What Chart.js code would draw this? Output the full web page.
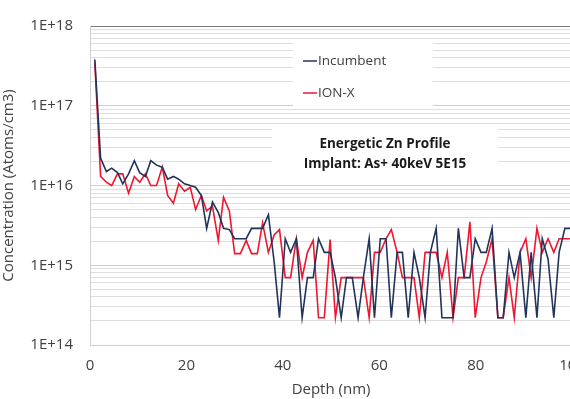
<!DOCTYPE html>
<html>
<head>
<meta charset="utf-8">
<script src="https://cdn.jsdelivr.net/npm/chart.js@4.4.1/dist/chart.umd.min.js"></script>
<style>
    html, body { margin: 0; padding: 0; background: #fff; overflow: hidden; }
    #wrap { width: 597px; height: 399px; }
</style>
</head>
<body>
<div id="wrap"><canvas id="chart" width="597" height="399"></canvas></div>
<script>
// Depth (nm) of each sample
const depths = [1.0, 2.2, 3.4, 4.5, 5.7, 6.8, 8.0, 9.2, 10.3, 11.5, 12.6, 13.8, 15.0, 16.1, 17.3, 18.4,
    19.6, 20.8, 21.9, 23.1, 24.2, 25.4, 26.6, 27.7, 28.9, 30.0, 31.2, 32.4, 33.5, 34.7, 35.8, 37.0,
    38.2, 39.3, 40.5, 41.6, 42.8, 44.0, 45.1, 46.3, 47.4, 48.6, 49.8, 50.9, 52.1, 53.2, 54.4, 55.6,
    56.7, 57.9, 59.0, 60.2, 61.4, 62.5, 63.7, 64.8, 66.0, 67.2, 68.3, 69.5, 70.6, 71.8, 73.0, 74.1,
    75.3, 76.4, 77.6, 78.8, 79.9, 81.1, 82.2, 83.4, 84.6, 85.7, 86.9, 88.0, 89.2, 90.4, 91.5, 92.7,
    93.8, 95.0, 96.2, 97.3, 98.5, 99.6];

const incumbent = [3.8e17, 2.2e16, 1.5e16, 1.65e16, 1.45e16, 1.05e16, 1.4e16, 2.05e16, 1.45e16, 1.3e16,
    2.05e16, 1.8e16, 1.7e16, 1.2e16, 1.3e16, 1.2e16, 1.05e16, 1.0e16, 9.5e15, 7.5e15,
    2.9e15, 6.2e15, 4.6e15, 2.9e15, 2.8e15, 2.15e15, 2.15e15, 2.15e15, 2.9e15, 2.9e15,
    2.9e15, 4.3e15, 1.1e15, 2.2e14, 2.15e15, 1.45e15, 2.15e15, 2.2e14, 7e14, 7e14,
    2.15e15, 1.45e15, 1.45e15, 7e14, 2.2e14, 7e14, 7e14, 2.2e14, 7e14, 2.15e15,
    2.2e14, 2.15e15, 2.15e15, 2.2e14, 1.45e15, 1.45e15, 2.2e14, 1.45e15, 7e14, 2.2e14,
    1.45e15, 2.9e15, 2.2e14, 2.2e14, 2.2e14, 2.9e15, 7e14, 7e14, 2.15e15, 1.45e15,
    1.45e15, 2.9e15, 2.2e14, 2.2e14, 1.45e15, 7e14, 1.45e15, 2.2e14, 1.45e15, 2.2e14,
    2.15e15, 1.2e15, 2.2e14, 1.45e15, 2.9e15, 2.9e15];

const ionx = [3.5e17, 1.3e16, 1.1e16, 1.0e16, 1.4e16, 1.4e16, 8e15, 1.3e16, 1.1e16, 1.4e16,
    1.0e16, 1.0e16, 1.7e16, 7.5e15, 6e15, 1.05e16, 8.5e15, 9.5e15, 5e15, 7.5e15,
    4.8e15, 5.5e15, 2.05e15, 7.1e15, 4.8e15, 1.4e15, 1.4e15, 2.05e15, 1.4e15, 1.4e15,
    3.4e15, 1.45e15, 2.4e15, 2.8e15, 7e14, 7e14, 2.15e15, 7e14, 1.45e15, 2.05e15,
    2.2e14, 2.2e14, 2.1e15, 2.2e14, 7e14, 7e14, 7e14, 7e14, 7e14, 2.2e14,
    1.45e15, 1.45e15, 2.15e15, 2.8e15, 1.45e15, 7e14, 7e14, 7e14, 2.2e14, 1.45e15,
    1.45e15, 1.45e15, 7e14, 1.45e15, 2.2e14, 7e14, 7e14, 3.5e15, 2.2e14, 7e14,
    1.1e15, 2.15e15, 2.2e14, 2.2e14, 7e14, 2.2e14, 1.45e15, 2.15e15, 7e14, 2.9e15,
    1.45e15, 2.15e15, 1.45e15, 2.15e15, 2.15e15, 2.15e15];

const decades = [1e14, 1e15, 1e16, 1e17, 1e18];
const xTicks = [0, 20, 40, 60, 80, 100];
const titleLines = ['Energetic Zn Profile', 'Implant: As+ 40keV 5E15'];

const FONT = '"Open Sans", "Noto Sans", sans-serif';

function toPoints(values) {
    return values.map((v, i) => ({ x: depths[i], y: v }));
}

// White boxes with legend and annotation inside the plot
const overlayPlugin = {
    id: 'overlay',
    beforeDatasetsDraw(chart) {
        const ctx = chart.ctx;
        ctx.save();
        ctx.fillStyle = '#ffffff';
        ctx.fillRect(293, 42, 140, 66);
        ctx.fillRect(272, 128, 226, 50);

        // legend
        ctx.font = '13.5px ' + FONT;
        ctx.textBaseline = 'middle';
        ctx.textAlign = 'left';
        chart.data.datasets.forEach((ds, i) => {
            const y = 61 + i * 32;
            ctx.strokeStyle = ds.borderColor;
            ctx.lineWidth = 1.5;
            ctx.beginPath();
            ctx.moveTo(303, y);
            ctx.lineTo(317, y);
            ctx.stroke();
            ctx.fillStyle = '#404040';
            ctx.fillText(ds.label, 318, y);
        });

        // annotation
        ctx.font = 'bold 13.5px ' + FONT;
        ctx.fillStyle = '#1a1a1a';
        ctx.textAlign = 'center';
        titleLines.forEach((t, i) => ctx.fillText(t, 385, 144 + i * 20));
        ctx.restore();
    }
};

new Chart(document.getElementById('chart'), {
    type: 'line',
    data: {
        datasets: [{
            label: 'Incumbent',
            data: toPoints(incumbent),
            borderColor: '#22345a',
            borderWidth: 1.6,
            pointRadius: 0,
            tension: 0,
            fill: false
        }, {
            label: 'ION-X',
            data: toPoints(ionx),
            borderColor: '#f01530',
            borderWidth: 1.6,
            pointRadius: 0,
            tension: 0,
            fill: false
        }]
    },
    options: {
        responsive: false,
        animation: false,
        layout: { padding: { top: 20, right: 0, left: 0, bottom: 0 } },
        plugins: {
            legend: { display: false },
            tooltip: { enabled: false }
        },
        scales: {
            x: {
                type: 'linear',
                min: 0,
                max: 100,
                afterBuildTicks: axis => { axis.ticks = xTicks.map(v => ({ value: v })); },
                grid: { display: false, drawTicks: false },
                border: { color: '#d0d0d0' },
                ticks: {
                    color: '#404040',
                    font: { family: FONT, size: 15 },
                    padding: 12,
                    maxRotation: 0
                },
                title: {
                    display: true,
                    text: 'Depth (nm)',
                    color: '#404040',
                    font: { family: FONT, size: 15 },
                    padding: { top: 0, bottom: 0 }
                },
                afterFit: axis => { axis.height = 54; }
            },
            y: {
                type: 'logarithmic',
                min: 1e14,
                max: 1e18,
                afterBuildTicks: axis => {
                    const t = [];
                    decades.forEach((d, k) => {
                        if (k === decades.length - 1) { t.push({ value: d }); return; }
                        for (let m = 1; m < 10; m++) t.push({ value: d * m });
                    });
                    axis.ticks = t;
                },
                grid: {
                    color: ctx => {
                        const v = ctx.tick ? ctx.tick.value : 0;
                        if (v === 1e18) return '#7a7a7a';
                        return decades.includes(v) ? '#cfcfcf' : '#dedede';
                    },
                    lineWidth: 1,
                    drawTicks: false
                },
                border: { color: '#d0d0d0' },
                ticks: {
                    color: '#404040',
                    font: { family: FONT, size: 15 },
                    padding: 17,
                    autoSkip: false,
                    callback: v => {
                        if (!decades.includes(v)) return '';
                        return '1E+' + Math.round(Math.log10(v));
                    }
                },
                title: {
                    display: true,
                    text: 'Concentration (Atoms/cm3)',
                    color: '#404040',
                    font: { family: FONT, size: 15 },
                    padding: { top: 0, bottom: 0 }
                },
                afterFit: axis => { axis.width = 90; }
            }
        }
    },
    plugins: [overlayPlugin]
});
</script>
</body>
</html>
